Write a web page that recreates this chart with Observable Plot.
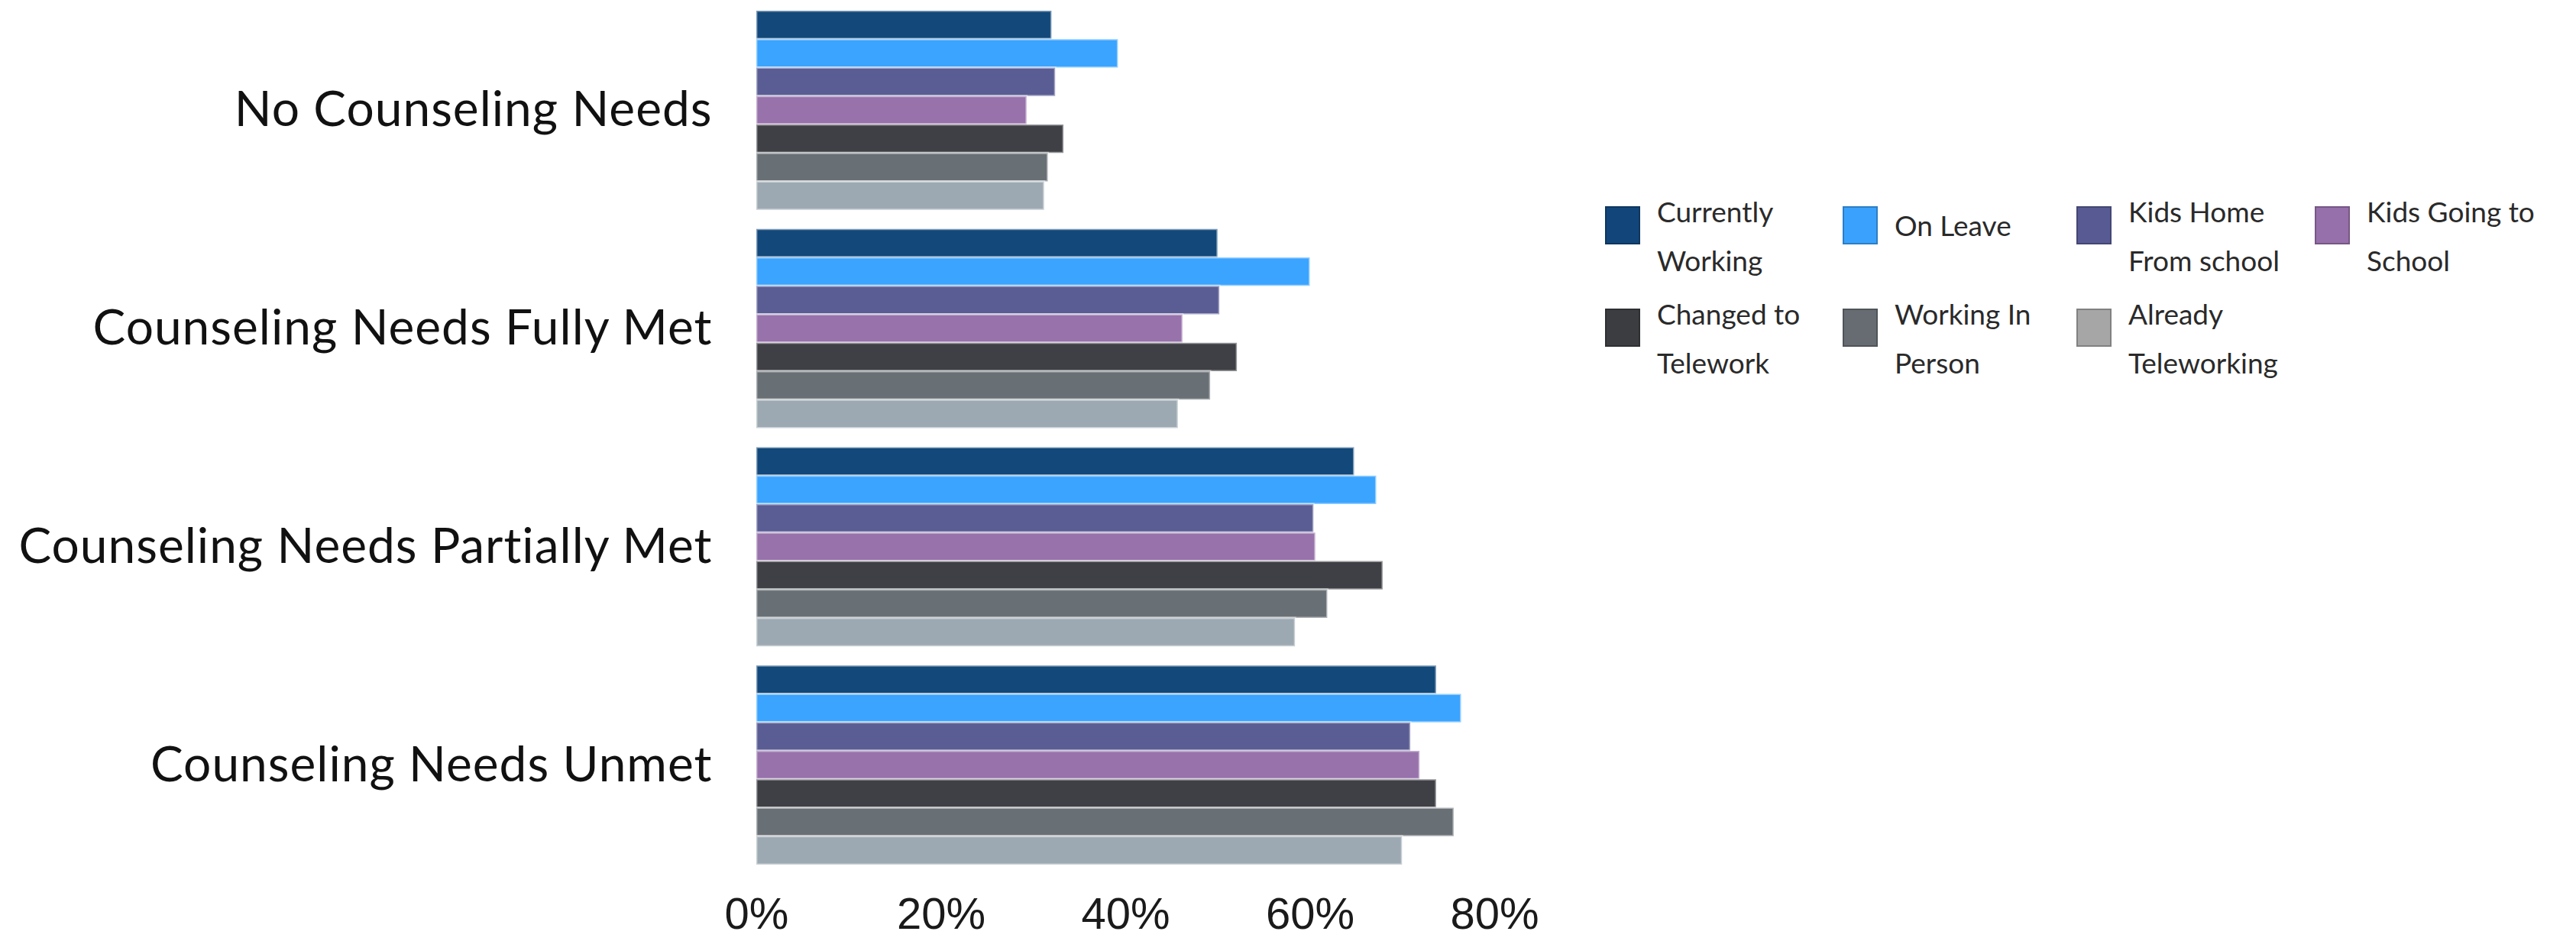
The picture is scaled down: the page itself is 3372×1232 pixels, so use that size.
<!DOCTYPE html>
<html>
<head>
<meta charset="utf-8">
<script src="https://cdn.jsdelivr.net/npm/d3@7"></script>
<script src="https://cdn.jsdelivr.net/npm/@observablehq/plot@0.6"></script>
<style>
  html, body { margin: 0; padding: 0; background: #fff; }
  #wrap { display: flex; flex-direction: row; width: 3372px; height: 1232px; overflow: hidden; }
  #chart { flex: none; }
  .cc g[aria-label="fy-axis tick label"] text { letter-spacing: 1px; }
  #legend {
    flex: none;
    margin-left: 41px;
    padding-top: 245px;
    display: grid;
    grid-template-columns: 311px 306px 312px 300px;
    grid-auto-rows: 134px;
    font-family: Lato, "Open Sans", sans-serif;
    font-size: 37px;
    line-height: 64px;
    color: #2a2a2a;
  }
  .item { display: flex; align-items: flex-start; }
  .item.single { align-items: center; height: 64px; margin-top: 18px; }
  .sw { flex: none; width: 46px; height: 50px; margin-top: 25px; margin-right: 22px; box-sizing: border-box; border: 2px solid rgba(0,0,0,0.22); }
  .item.single .sw { margin-top: 0; }
  .lab { white-space: pre-line; }
</style>
</head>
<body>
<div id="wrap">
  <div id="chart"></div>
  <div id="legend"></div>
</div>
<script>
// ---- data ----
const categories = [
  "No Counseling Needs",
  "Counseling Needs Fully Met",
  "Counseling Needs Partially Met",
  "Counseling Needs Unmet"
];
const series = [
  "Currently Working",
  "On Leave",
  "Kids Home From school",
  "Kids Going to School",
  "Changed to Telework",
  "Working In Person",
  "Already Teleworking"
];
// values in %, one array per series, in category order
const currentlyWorking   = [32.0, 50.0, 64.8, 73.7];
const onLeave            = [39.2, 60.0, 67.2, 76.4];
const kidsHomeFromSchool = [32.4, 50.2, 60.4, 70.9];
const kidsGoingToSchool  = [29.3, 46.2, 60.6, 71.9];
const changedToTelework  = [33.3, 52.1, 67.9, 73.7];
const workingInPerson    = [31.6, 49.2, 61.9, 75.6];
const alreadyTeleworking = [31.2, 45.7, 58.4, 70.0];
const seriesValues = [currentlyWorking, onLeave, kidsHomeFromSchool, kidsGoingToSchool,
                      changedToTelework, workingInPerson, alreadyTeleworking];
const xTicks = [0, 20, 40, 60, 80];
const barColors = ["#12487A", "#3AA4FF", "#5A5C94", "#9772AB", "#3F4045", "#686F75", "#9DA9B2"];
const legendColors = ["#12467A", "#3AA2FC", "#585B93", "#9670AA", "#3C3D41", "#666C72", "#A6A6A6"];
const legendLabels = [
  "Currently\nWorking",
  "On Leave",
  "Kids Home\nFrom school",
  "Kids Going to\nSchool",
  "Changed to\nTelework",
  "Working In\nPerson",
  "Already\nTeleworking"
];

const data = [];
categories.forEach((c, ci) => {
  series.forEach((s, si) => {
    data.push({category: c, series: s, value: seriesValues[si][ci]});
  });
});

const chart = Plot.plot({
  className: "cc",
  width: 2060,
  height: 1232,
  marginLeft: 990,
  marginRight: 104,
  marginTop: 14,
  marginBottom: 100,
  x: {domain: [0, 80], axis: null},
  y: {domain: series, axis: null, padding: 0, round: false},
  fy: {domain: categories, axis: null, paddingInner: 0.0874, paddingOuter: 0, round: false, label: null},
  color: {domain: series, range: barColors},
  marks: [
    Plot.barX(data, {
      x: "value", y: "series", fy: "category", fill: "series",
      stroke: "white", strokeOpacity: 0.45, strokeWidth: 3
    }),
    Plot.axisFy({
      anchor: "left", label: null, tickSize: 0, tickPadding: 58,
      fontSize: 64, fontFamily: "Lato, 'Open Sans', sans-serif", fill: "#111"
    }),
    Plot.axisX({
      anchor: "bottom", ticks: xTicks, tickFormat: d => d + "%", label: null,
      tickSize: 0, tickPadding: 42, fontSize: 58,
      fontFamily: "'Liberation Sans', Arial, sans-serif", fill: "#1a1a1a"
    })
  ]
});
document.getElementById("chart").appendChild(chart);

const legend = document.getElementById("legend");
series.forEach((s, i) => {
  const item = document.createElement("div");
  item.className = "item" + (legendLabels[i].includes("\n") ? "" : " single");
  const sw = document.createElement("div");
  sw.className = "sw";
  sw.style.background = legendColors[i];
  const lab = document.createElement("div");
  lab.className = "lab";
  lab.textContent = legendLabels[i];
  item.appendChild(sw);
  item.appendChild(lab);
  legend.appendChild(item);
});
</script>
</body>
</html>
